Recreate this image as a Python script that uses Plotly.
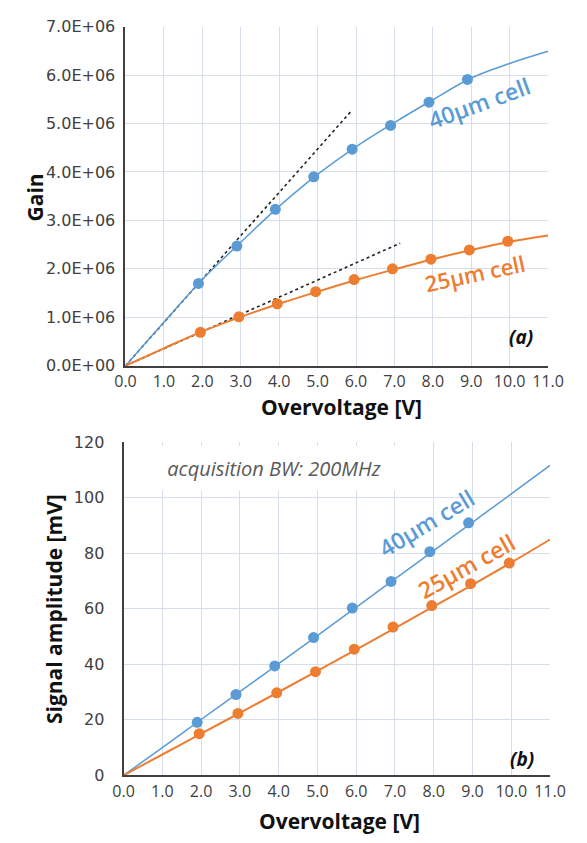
import plotly.graph_objects as go

# ---- data -------------------------------------------------------------
# (a) gain vs overvoltage
gain_40_v = [1.9, 2.9, 3.9, 4.9, 5.9, 6.9, 7.9, 8.9]
gain_40 = [1.70e6, 2.47e6, 3.23e6, 3.90e6, 4.47e6, 4.96e6, 5.44e6, 5.91e6]
gain_25_v = [1.95, 2.95, 3.95, 4.95, 5.95, 6.95, 7.95, 8.95, 9.95]
gain_25 = [0.69e6, 1.01e6, 1.28e6, 1.53e6, 1.78e6, 2.00e6, 2.20e6, 2.39e6, 2.57e6]

# trend curves for (a)
trend_v = [0, 1, 2, 3, 4, 5, 6, 7, 8, 9, 10, 11]
gain_40_trend = [0, 0.90e6, 1.78e6, 2.55e6, 3.29e6, 3.95e6, 4.52e6, 5.02e6, 5.49e6, 5.94e6, 6.24e6, 6.49e6]
gain_25_trend = [0, 0.36e6, 0.71e6, 1.01e6, 1.28e6, 1.53e6, 1.77e6, 1.99e6, 2.20e6, 2.39e6, 2.56e6, 2.69e6]

# low-overvoltage linear tangents for (a)
tan_40_v = [0, 5.87]
tan_40 = [0, 5.25e6]
tan_25_v = [0, 7.15]
tan_25 = [0, 2.53e6]

# (b) signal amplitude vs overvoltage
amp_40_v = [1.9, 2.9, 3.9, 4.9, 5.9, 6.9, 7.9, 8.9]
amp_40 = [19.1, 29.1, 39.4, 49.6, 60.2, 69.8, 80.5, 90.9]
amp_25_v = [1.95, 2.95, 3.95, 4.95, 5.95, 6.95, 7.95, 8.95, 9.95]
amp_25 = [15.0, 22.3, 29.7, 37.3, 45.4, 53.4, 61.1, 69.0, 76.4]

amp_40_trend = [0, 10.0, 20.1, 30.1, 40.2, 50.3, 60.5, 70.7, 80.9, 91.1, 101.3, 111.6]
amp_25_trend = [0, 7.5, 15.0, 22.5, 30.0, 37.6, 45.3, 53.0, 60.8, 68.6, 76.6, 84.9]

x_ticks = [0, 1, 2, 3, 4, 5, 6, 7, 8, 9, 10, 11]
x_tick_text = ["0.0", "1.0", "2.0", "3.0", "4.0", "5.0", "6.0", "7.0", "8.0", "9.0", "10.0", "11.0"]
gain_ticks = [0, 1e6, 2e6, 3e6, 4e6, 5e6, 6e6, 7e6]
gain_tick_text = ["0.0E+00", "1.0E+06", "2.0E+06", "3.0E+06", "4.0E+06", "5.0E+06", "6.0E+06", "7.0E+06"]
amp_ticks = [0, 20, 40, 60, 80, 100, 120]

# ---- style ------------------------------------------------------------
BLUE = "#5B9BD5"
ORANGE = "#ED7D31"
GRID = "#D6DEEB"
AXIS = "#404040"
TICK_FONT_X = dict(family="Open Sans", size=16, color="#404040")
TICK_FONT_Y = dict(family="DejaVu Sans", size=16, color="#404040")
LABEL_FONT = "Open Sans"

fig = go.Figure()


def add_series(xs, ys, color, width, xa, ya, mode="lines", dash=None, shape="spline", msize=11):
    fig.add_trace(go.Scatter(
        x=xs, y=ys, mode=mode, xaxis=xa, yaxis=ya, showlegend=False,
        line=dict(color=color, width=width, dash=dash, shape=shape),
        marker=dict(color=color, size=msize),
        hoverinfo="skip",
    ))


# panel (a)
add_series(tan_40_v, tan_40, "#222222", 1.6, "x", "y", dash="dot", shape="linear")
add_series(tan_25_v, tan_25, "#222222", 1.6, "x", "y", dash="dot", shape="linear")
add_series(trend_v, gain_40_trend, BLUE, 1.5, "x", "y")
add_series(trend_v, gain_25_trend, ORANGE, 2.0, "x", "y")
add_series(gain_40_v, gain_40, BLUE, 0, "x", "y", mode="markers")
add_series(gain_25_v, gain_25, ORANGE, 0, "x", "y", mode="markers")

# panel (b)
add_series(trend_v, amp_40_trend, BLUE, 1.5, "x2", "y2")
add_series(trend_v, amp_25_trend, ORANGE, 2.0, "x2", "y2")
add_series(amp_40_v, amp_40, BLUE, 0, "x2", "y2", mode="markers")
add_series(amp_25_v, amp_25, ORANGE, 0, "x2", "y2", mode="markers")

W, H = 587, 843


def px_x(p):
    return p / W


def px_y(p):
    return 1 - p / H


common_x = dict(
    range=[0, 11], tickvals=x_ticks, ticktext=x_tick_text, tickfont=TICK_FONT_X,
    showgrid=True, gridcolor=GRID, gridwidth=1, zeroline=False,
    showline=True, linecolor=AXIS, linewidth=2, ticks="", ticklabelstandoff=0,
)
common_y = dict(
    showgrid=True, gridcolor=GRID, gridwidth=1, zeroline=False,
    showline=True, linecolor=AXIS, linewidth=2, ticks="", tickfont=TICK_FONT_Y,
)

fig.update_layout(
    width=W, height=H,
    margin=dict(l=0, r=0, t=0, b=0),
    paper_bgcolor="white", plot_bgcolor="white",
    xaxis=dict(domain=[px_x(120), px_x(563)], anchor="y", **common_x),
    yaxis=dict(domain=[px_y(365), px_y(18)], anchor="x", range=[0, 7e6],
               tickvals=gain_ticks, ticktext=gain_tick_text, ticklabelstandoff=5, **common_y),
    xaxis2=dict(domain=[px_x(118), px_x(565)], anchor="y2", **common_x),
    yaxis2=dict(domain=[px_y(784), px_y(443)], anchor="x2", range=[0, 120],
                tickvals=amp_ticks, ticklabelstandoff=14, **common_y),
)

ann = []


def label(text, x, y, xref, yref, size, color, angle=0, italic=False, bold=False, weight=None, **kw):
    t = text
    if bold:
        t = f"<b>{t}</b>"
    if italic:
        t = f"<i>{t}</i>"
    font = dict(family=LABEL_FONT, size=size, color=color)
    if weight:
        font["weight"] = weight
    ann.append(dict(text=t, x=x, y=y, xref=xref, yref=yref, showarrow=False,
                    textangle=angle, font=font,
                    xanchor="center", yanchor="middle", **kw))


# series labels
label("40μm cell", 9.2, 5.42e6, "x", "y", 23, BLUE, angle=-20, weight=600)
label("25μm cell", 9.1, 1.92e6, "x", "y", 22, ORANGE, angle=-12, weight=600)
label("40μm cell", 7.8, 91.0, "x2", "y2", 23, BLUE, angle=-31, weight=600)
label("25μm cell", 8.84, 75.5, "x2", "y2", 23, ORANGE, angle=-29, weight=600)

# panel tags
label("(a)", 10.3, 0.6e6, "x", "y", 19, "#111111", italic=True, bold=True)
label("(b)", 10.27, 5.7, "x2", "y2", 19, "#111111", italic=True, bold=True)

# acquisition note with white box over the grid
label("acquisition BW: 200MHz", 3.87, 110.5, "x2", "y2", 20, "#595959", italic=True,
      bgcolor="white", width=248, height=42)

# axis titles
label("Gain", px_x(25), px_y(193), "paper", "paper", 21, "#111111", angle=-90, bold=True)
label("Overvoltage [V]", px_x(346), px_y(407), "paper", "paper", 21, "#111111", bold=True)
label("Signal amplitude [mV]", px_x(45), px_y(614), "paper", "paper", 21, "#111111", angle=-90, bold=True)
label("Overvoltage [V]", px_x(344), px_y(831), "paper", "paper", 21, "#111111", bold=True)

fig.update_layout(annotations=ann)

fig.write_html("out.html")
